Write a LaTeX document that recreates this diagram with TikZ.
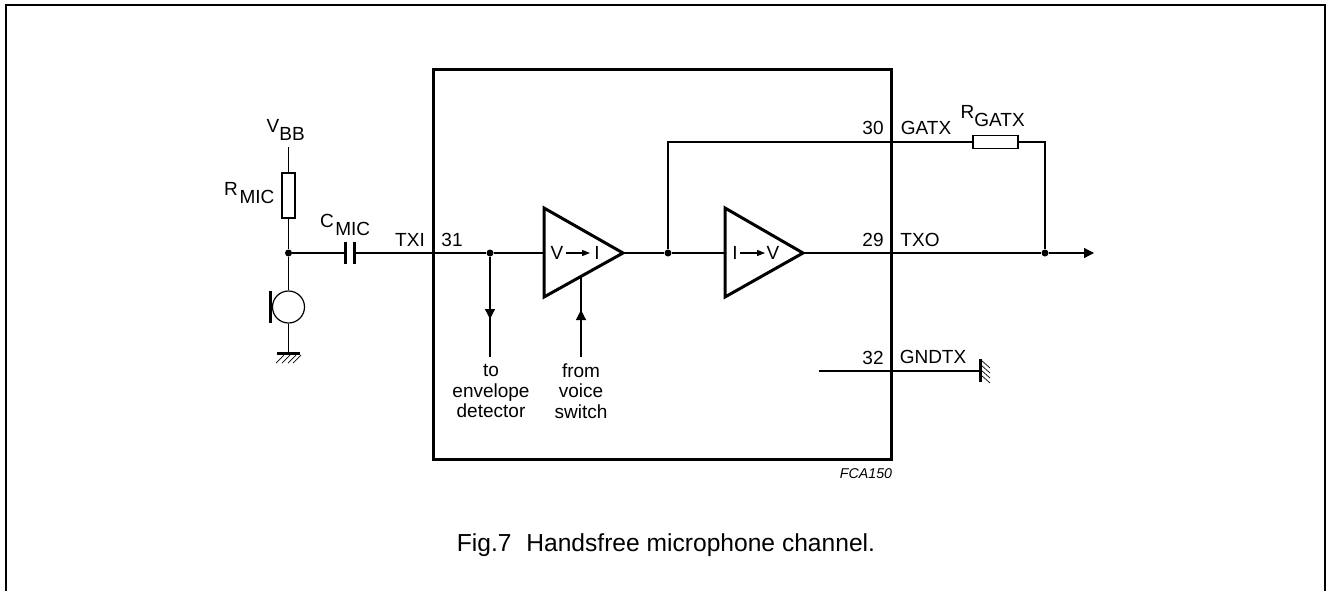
\documentclass[tikz,border=0pt]{standalone}
\usepackage{fontspec}
\setmainfont{Liberation Sans}
\usetikzlibrary{arrows.meta}
\tikzset{
  wire/.style={line width=1.2pt},
  arrowwire/.style={wire, -{Triangle[length=10pt,width=10pt]}},
  res/.style={draw, rectangle, line width=1.2pt, inner sep=0pt},
  dot/.style={circle, fill=black, inner sep=0pt, minimum size=7pt},
  thick3/.style={line width=3pt},
  lbl/.style={inner sep=0pt, font=\fontsize{19}{20.5}\selectfont},
}
\begin{document}
\begin{tikzpicture}[x=1pt, y=-1pt]
  \useasboundingbox (0,0) rectangle (1327,590);
  \fill[white] (0,0) rectangle (1327,590);
  \draw[line width=1.7pt] (6,600) -- (6,5) -- (1325,5) -- (1325,600);
  % chip outline and amplifiers
  \node[draw, rectangle, line width=3pt, minimum width=458pt, minimum height=390pt, inner sep=0pt] (chip) at (662,264) {};
  \coordinate (a1) at (544,253);
  \coordinate (t1) at (623,253);
  \coordinate (a2) at (725,253);
  \coordinate (t2) at (803,253);
  \draw[thick3, line join=miter] (544,208) -- (t1) -- (544,297) -- cycle;
  \draw[thick3, line join=miter] (725,208) -- (t2) -- (725,297) -- cycle;
  % nodes
  \coordinate (vbb) at (288.5,147);
  \node[res, minimum width=13pt, minimum height=45pt] (rmic) at (288.5,195.5) {};
  \node[dot] (j1) at (288.5,253) {};
  \coordinate (c1) at (345.5,253);
  \coordinate (c2) at (354.5,253);
  \node[circle, draw, line width=1.2pt, minimum size=32pt, inner sep=0pt] (mic) at (288.5,307) {};
  \coordinate (gnd) at (288.5,353);
  \node[dot] (j2) at (490,253) {};
  \node[dot] (j3) at (668,253) {};
  \node[dot] (j4) at (1045,253) {};
  \coordinate (det) at (490,357);
  \coordinate (sw) at (581,357);
  \coordinate (swin) at (581,277);
  \coordinate (fb) at (668,142);
  \node[res, minimum width=45pt, minimum height=13pt] (rgatx) at (995.5,142) {};
  \coordinate (fbr) at (1045,142);
  \coordinate (out) at (1094,253);
  \coordinate (gs) at (819,371);
  \coordinate (ge) at (980,371);
  % wires
  \draw[wire] (vbb) -- (rmic) -- (j1) -- (mic) -- (gnd);
  \draw[wire] (j1) -- (c1);
  \draw[wire] (c2) -- (j2) -- (a1);
  \draw[wire] (t1) -- (j3) -- (a2);
  \draw[wire] (j3) -- (fb) -- (rgatx) -- (fbr) -- (j4);
  \draw[wire] (t2) -- (j4);
  \draw[arrowwire] (j4) -- (out);
  \draw[wire] (j2) -- (det);
  \draw[arrowwire] (j2) -- (490,319);
  \draw[wire] (sw) -- (swin);
  \draw[arrowwire] (sw) -- (581,310);
  \draw[wire] (gs) -- (ge);
  % capacitor, mic bar and ground symbols
  \draw[thick3] (345.5,242) -- (345.5,264);
  \draw[thick3] (354.5,242) -- (354.5,264);
  \draw[thick3] (270.7,291) -- (270.7,323);
  \draw[thick3] (277,353) -- (300,353);
  \foreach \x in {284,290,296,301}
    \draw[line width=0.7pt] (\x,355) -- (\x-8,363);
  \draw[thick3] (980,359) -- (980,382);
  \foreach \y in {360,365,370,375}
    \draw[line width=0.7pt] (981,\y) -- (990,\y+8);
  % labels
  \node[lbl] (vtxt) at (273,126) {V};
  \node[lbl] (vsub) at (292,134) {BB};
  \node[lbl] (rtxt) at (231,189) {R};
  \node[lbl] (rsub) at (257,197) {MIC};
  \node[lbl] (ctxt) at (327,221) {C};
  \node[lbl] (csub) at (352.7,229) {MIC};
  \node[lbl] (txi) at (410,240) {TXI};
  \node[lbl] (p31) at (452,240) {31};
  \node[lbl] (v1) at (557,253) {V};
  \node[lbl] (i1) at (597,253) {I};
  \node[lbl] (i2) at (735,253) {I};
  \node[lbl] (v2) at (773,253) {V};
  \draw[wire, -{Triangle[length=8pt,width=6pt]}] (566,253) -- (590,253);
  \draw[wire, -{Triangle[length=8pt,width=6pt]}] (740,253) -- (765,253);
  \node[lbl, align=center] (todet) at (491,391) {to\\envelope\\detector};
  \node[lbl, align=center] (fromsw) at (581,391) {from\\voice\\switch};
  \node[lbl] (p30) at (873,128) {30};
  \node[lbl] (gatx) at (926,128) {GATX};
  \node[lbl] (rg) at (967.5,112) {R};
  \node[lbl] (rgsub) at (999.5,120) {GATX};
  \node[lbl] (p29) at (873,240) {29};
  \node[lbl] (txo) at (920,240) {TXO};
  \node[lbl] (p32) at (873,358) {32};
  \node[lbl] (gndtx) at (933,356.5) {GNDTX};
  \node[inner sep=0pt, font=\fontsize{14.2}{15}\selectfont\itshape] (fca) at (866,474) {FCA150};
  \node[inner sep=0pt, font=\fontsize{24.6}{26}\selectfont] (cap) at (666,545) {Fig.7\hspace{0.6em}Handsfree microphone channel.};
\end{tikzpicture}
\end{document}
